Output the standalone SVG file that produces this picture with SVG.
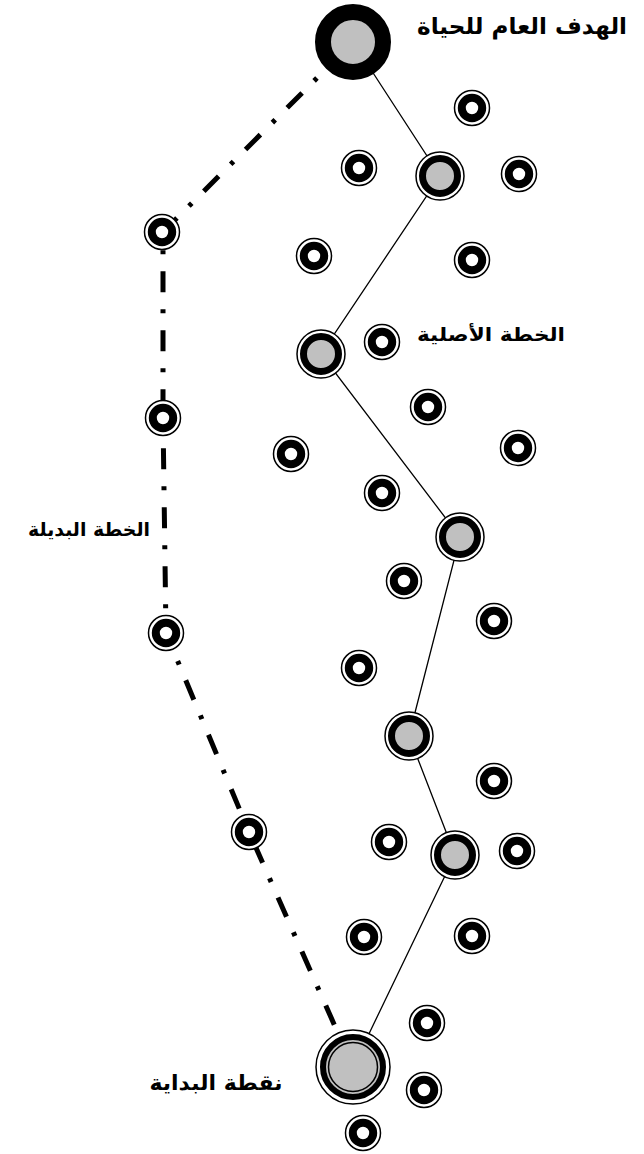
<svg xmlns="http://www.w3.org/2000/svg" xmlns:xlink="http://www.w3.org/1999/xlink" width="644" height="1154" viewBox="0 0 644 1154">
<style>
.lbl{font-family:"DejaVu Sans",sans-serif;font-weight:bold;fill:#000;text-anchor:middle}
.solid{fill:none;stroke:#000;stroke-width:1.3}
.dd{fill:none;stroke:#000;stroke-width:5;stroke-dasharray:21 17 4 17;stroke-linejoin:miter}
</style>
<defs>
<g id="small">
<circle r="17.5" fill="#fff" stroke="#000" stroke-width="1.5"/>
<circle r="10.2" fill="#fff" stroke="#000" stroke-width="8"/>
</g>
<g id="grey">
<circle r="24" fill="#fff" stroke="#000" stroke-width="1.5"/>
<circle r="17.5" fill="#c0c0c0" stroke="#000" stroke-width="7"/>
</g>
</defs>
<g id="connectors">
<path class="solid" d="M353,42 L440,176 L321,354 L460,537 L409,736 L455,855 L353,1067"/>
<path class="dd" stroke-dashoffset="46" d="M353,42 L163,232 L163,418 L166,633 L249,832 L353,1067"/>
</g>
<g id="goal"><circle cx="353" cy="42" r="30" fill="#c0c0c0" stroke="#000" stroke-width="16"/></g>
<g id="g1" transform="translate(440,176)"><use xlink:href="#grey"/></g>
<g id="g2" transform="translate(321,354)"><use xlink:href="#grey"/></g>
<g id="g3" transform="translate(460,537)"><use xlink:href="#grey"/></g>
<g id="g4" transform="translate(409,736)"><use xlink:href="#grey"/></g>
<g id="g5" transform="translate(455,855)"><use xlink:href="#grey"/></g>
<g id="start">
<circle cx="353" cy="1067" r="37" fill="#fff" stroke="#000" stroke-width="1.5"/>
<circle cx="353" cy="1067" r="30" fill="#c0c0c0" stroke="#000" stroke-width="6"/>
<circle cx="353" cy="1067" r="24.5" fill="#c0c0c0" stroke="#000" stroke-width="1.5"/>
</g>
<g id="n1" transform="translate(472,108)"><use xlink:href="#small"/></g>
<g id="n2" transform="translate(359,168)"><use xlink:href="#small"/></g>
<g id="n3" transform="translate(519,174)"><use xlink:href="#small"/></g>
<g id="n4" transform="translate(162,232)"><use xlink:href="#small"/></g>
<g id="n5" transform="translate(314,256)"><use xlink:href="#small"/></g>
<g id="n6" transform="translate(472,260)"><use xlink:href="#small"/></g>
<g id="n7" transform="translate(382,342)"><use xlink:href="#small"/></g>
<g id="n8" transform="translate(428,407)"><use xlink:href="#small"/></g>
<g id="n9" transform="translate(163,418)"><use xlink:href="#small"/></g>
<g id="n10" transform="translate(291,454)"><use xlink:href="#small"/></g>
<g id="n11" transform="translate(518,448)"><use xlink:href="#small"/></g>
<g id="n12" transform="translate(382,493)"><use xlink:href="#small"/></g>
<g id="n13" transform="translate(404,581)"><use xlink:href="#small"/></g>
<g id="n14" transform="translate(494,621)"><use xlink:href="#small"/></g>
<g id="n15" transform="translate(166,633)"><use xlink:href="#small"/></g>
<g id="n16" transform="translate(359,668)"><use xlink:href="#small"/></g>
<g id="n17" transform="translate(494,781)"><use xlink:href="#small"/></g>
<g id="n18" transform="translate(249,832)"><use xlink:href="#small"/></g>
<g id="n19" transform="translate(389,842)"><use xlink:href="#small"/></g>
<g id="n20" transform="translate(517,851)"><use xlink:href="#small"/></g>
<g id="n21" transform="translate(364,937)"><use xlink:href="#small"/></g>
<g id="n22" transform="translate(472,936)"><use xlink:href="#small"/></g>
<g id="n23" transform="translate(427,1023)"><use xlink:href="#small"/></g>
<g id="n24" transform="translate(424,1090)"><use xlink:href="#small"/></g>
<g id="n25" transform="translate(363,1133)"><use xlink:href="#small"/></g>
<g id="labels">
<text class="lbl" x="522" y="34" font-size="23" textLength="210" lengthAdjust="spacingAndGlyphs">الهدف العام للحياة</text>
<text class="lbl" x="491" y="341" font-size="19" textLength="148" lengthAdjust="spacingAndGlyphs">الخطة الأصلية</text>
<text class="lbl" x="89" y="536" font-size="19" textLength="122" lengthAdjust="spacingAndGlyphs">الخطة البديلة</text>
<text class="lbl" x="216" y="1090" font-size="21" textLength="133" lengthAdjust="spacingAndGlyphs">نقطة البداية</text>
</g>
</svg>
